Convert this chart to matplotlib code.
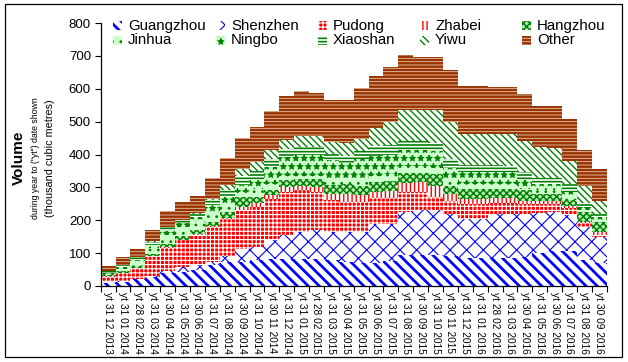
import matplotlib
matplotlib.use('Agg')
import matplotlib.pyplot as plt
from matplotlib.patches import Rectangle
import numpy as np

plt.rcParams['font.family'] = ['Liberation Sans', 'DejaVu Sans']

dates = ["31 12 2013", "31 01 2014", "28 02 2014", "31 03 2014", "30 04 2014",
         "31 05 2014", "30 06 2014", "31 07 2014", "31 08 2014", "30 09 2014",
         "31 10 2014", "30 11 2014", "31 12 2014", "31 01 2015", "28 02 2015",
         "31 03 2015", "30 04 2015", "31 05 2015", "30 06 2015", "31 07 2015",
         "31 08 2015", "30 09 2015", "31 10 2015", "30 11 2015", "31 12 2015",
         "31 01 2016", "28 02 2016", "31 03 2016", "30 04 2016", "31 05 2016",
         "30 06 2016", "31 07 2016", "31 08 2016", "30 09 2016"]
labels = ["yt " + d for d in dates]

guangzhou = [10, 12, 20, 28, 40, 43, 48, 64, 72, 74, 79, 81, 81, 82, 82, 79, 72, 71, 71, 75,
             93, 93, 93, 90, 84, 84, 84, 86, 88, 101, 107, 105, 79, 71]
shenzhen = [2, 2, 2, 2, 5, 14, 16, 10, 20, 40, 40, 58, 74, 83, 88, 86, 93, 94, 119, 115,
            132, 137, 137, 130, 121, 121, 134, 132, 130, 121, 118, 110, 99, 79]
pudong = [16, 26, 32, 61, 72, 82, 91, 104, 111, 116, 121, 127, 131, 126, 116, 96, 91, 91, 78, 78,
          60, 55, 40, 40, 43, 43, 33, 33, 32, 27, 24, 23, 15, 5]
zhabei = [1, 1, 1, 1, 2, 2, 2, 3, 4, 10, 11, 10, 15, 12, 15, 20, 25, 20, 18, 22,
          28, 30, 35, 20, 18, 18, 17, 17, 9, 9, 9, 4, 2, 10]
hangzhou = [3, 4, 5, 6, 9, 11, 13, 14, 18, 31, 20, 15, 20, 23, 25, 25, 29, 29, 29, 30,
            32, 30, 35, 25, 30, 30, 28, 28, 32, 23, 23, 20, 30, 30]
jinhua = [6, 8, 12, 17, 27, 26, 25, 30, 25, 15, 25, 20, 15, 10, 10, 19, 20, 20, 20, 20,
          20, 20, 20, 20, 14, 14, 14, 14, 5, 10, 10, 14, 5, 5]
ningbo = [2, 4, 7, 9, 13, 14, 15, 20, 21, 20, 30, 51, 56, 61, 61, 57, 45, 60, 60, 60,
          50, 50, 50, 35, 36, 36, 36, 36, 25, 19, 19, 10, 10, 10]
xiaoshan = [5, 7, 8, 10, 10, 8, 10, 18, 22, 30, 25, 25, 25, 27, 27, 20, 20, 25, 30, 30,
            25, 25, 25, 25, 21, 21, 21, 19, 25, 19, 19, 23, 13, 8]
yiwu = [1, 1, 1, 2, 2, 2, 2, 3, 13, 21, 26, 27, 27, 31, 31, 35, 41, 37, 56, 68,
        96, 96, 101, 113, 96, 96, 96, 98, 96, 93, 91, 71, 52, 41]
other = [15, 22, 24, 34, 47, 52, 52, 63, 84, 93, 108, 119, 135, 137, 132, 129, 130, 155, 158, 167,
         166, 161, 161, 159, 146, 146, 143, 143, 142, 126, 128, 128, 109, 98]

series_names = ["Guangzhou", "Shenzhen", "Pudong", "Zhabei", "Hangzhou",
                "Jinhua", "Ningbo", "Xiaoshan", "Yiwu", "Other"]
series_values = [guangzhou, shenzhen, pudong, zhabei, hangzhou,
                 jinhua, ningbo, xiaoshan, yiwu, other]

# face colour, hatch colour, hatch, hatch linewidth
styles = {
    "Guangzhou": ("white", "#0000ff", "\\\\\\", 2.0),
    "Shenzhen": ("white", "#0000ff", "xx", 0.8),
    "Pudong": ("#ff0000", "white", "++++", 0.8),
    "Zhabei": ("white", "#ff0000", "||||", 1.0),
    "Hangzhou": ("#b8eab8", "#008000", "xxxxx", 1.1),
    "Jinhua": ("#ccffcc", "#008000", "..", 0.8),
    "Ningbo": ("#ccffcc", "#008000", "**", 0.8),
    "Xiaoshan": ("white", "#008000", "-----", 1.2),
    "Yiwu": ("white", "#008000", "\\\\\\\\\\", 1.0),
    "Other": ("#993300", "#e8c8b0", "-----", 0.6),
}

W, H = 628, 362
fig = plt.figure(figsize=(W / 100, H / 100), dpi=100)
ax = fig.add_axes([100.7 / W, (H - 286) / H, 506 / W, 263 / H])

x = np.arange(len(labels))
bottom = np.zeros(len(labels))
for name, vals in zip(series_names, series_values):
    face, hc, hatch, hlw = styles[name]
    with plt.rc_context({'hatch.linewidth': hlw}):
        bars = ax.bar(x, vals, width=1.0, bottom=bottom, color=face,
                      edgecolor=hc, hatch=hatch, linewidth=0)
    for b in bars:
        if hasattr(b, 'set_hatch_linewidth'):
            b.set_hatch_linewidth(hlw)
    bottom += np.array(vals)

ax.set_xlim(-0.5, len(labels) - 0.5)
ax.set_ylim(0, 800)
ax.set_yticks(np.arange(0, 801, 100))
ax.tick_params(axis='y', labelsize=9.5, length=4, width=0.8, pad=3, direction='out')
ax.set_xticks(x)
ax.set_xticklabels(labels, rotation=270, fontsize=7.3, va='top', ha='center')
ax.set_xticks(np.arange(-0.5, len(labels), 1), minor=True)
ax.tick_params(axis='x', which='major', length=0, pad=4.5)
ax.tick_params(axis='x', which='minor', length=4, width=0.8, direction='out')
for s in ['top', 'right']:
    ax.spines[s].set_visible(False)
for s in ['left', 'bottom']:
    ax.spines[s].set_linewidth(0.9)
    ax.spines[s].set_color('black')

# Y axis titles
yc = (H - 158) / H
fig.text(19 / W, yc, "Volume", rotation=90, fontsize=11, fontweight='bold',
         ha='center', va='center')
fig.text(36 / W, yc, 'during year to ("yt") date shown', rotation=90, fontsize=6.3,
         ha='center', va='center')
fig.text(50 / W, yc, "(thousand cubic metres)", rotation=90, fontsize=7.8,
         ha='center', va='center')

# Manual legend (2 rows x 5 columns)
text_x = [128, 231, 333, 435, 537]
row_y = [25.7, 40.0]
for i, name in enumerate(series_names):
    r, c = divmod(i, 5)
    face, hc, hatch, hlw = styles[name]
    tx = text_x[c]
    cy = row_y[r]
    with plt.rc_context({'hatch.linewidth': hlw}):
        rect = Rectangle(((tx - 15) / W, (H - cy - 4.5) / H), 9 / W, 9 / H,
                         transform=fig.transFigure, facecolor=face, edgecolor=hc,
                         hatch=hatch, linewidth=0)
    if hasattr(rect, 'set_hatch_linewidth'):
        rect.set_hatch_linewidth(hlw)
    fig.patches.append(rect)
    fig.text(tx / W, (H - cy) / H, name, fontsize=10.8, ha='left', va='center')

# Outer chart border
fig.patches.append(Rectangle((5 / W, (H - 357) / H), 617 / W, 353 / H,
                             transform=fig.transFigure, fill=False,
                             edgecolor='black', linewidth=0.9))

fig.savefig('out.png', dpi=100)
